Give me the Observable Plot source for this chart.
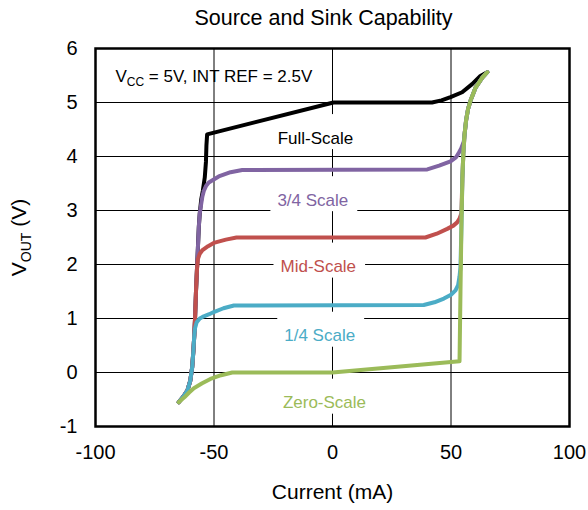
<!DOCTYPE html>
<html><head><meta charset="utf-8">
<script src="https://cdn.jsdelivr.net/npm/d3@7"></script>
<script src="https://cdn.jsdelivr.net/npm/@observablehq/plot@0.6"></script>
<style>
body{margin:0;background:#fff;}
#chart svg{font-family:"Liberation Sans",Arial,sans-serif;}
</style>
</head><body><div id="chart"></div>
<script>
// ---- data ----
const xTicks = [-100, -50, 0, 50, 100];
const yTicks = [-1, 0, 1, 2, 3, 4, 5, 6];

// shared source-side rise (current mA, Vout V)
const sourceRise = [[-64.9,-0.55],[-63.0,-0.45],[-61.2,-0.33],[-60.0,-0.15],[-59.2,0.1],[-58.7,0.4],[-58.3,0.7]];
// shared sink-side rise (top part of the zero-scale sink curve)
const sinkRise = [[53.6,0.21],[54.0,1.5],[54.4,2.7],[54.8,3.6],[55.2,4.05],[55.7,4.4],[56.4,4.68],[57.2,4.88],[58.2,5.03],[60.3,5.27],[63.2,5.46],[65.3,5.56]];

const fullScale = [...sourceRise,[-58.0,1.0],[-57.6,1.5],[-57.2,1.9],[-56.8,2.3],[-56.4,2.7],[-56.0,2.95],[-55.4,3.2],[-54.7,3.37],[-53.9,3.61],[-53.4,3.9],[-53.2,4.2],[-52.9,4.41],[0.4,5.0],[42,5.0],[46,5.04],[49.8,5.1],[54.7,5.19],[58.9,5.34],[62.4,5.49],[65.3,5.56]];
const threeQuarterScale = [...sourceRise,[-58.0,1.0],[-57.6,1.5],[-57.2,1.9],[-56.8,2.3],[-56.4,2.7],[-56.0,2.95],[-55.4,3.12],[-54.9,3.26],[-54.3,3.36],[-53.3,3.46],[-52.2,3.52],[-48,3.63],[-43,3.71],[-38.1,3.75],[40,3.76],[45,3.83],[49.8,3.91],[52.2,3.99],[53.3,4.07],[54.3,4.15],[55.4,4.28],[55.7,4.4],[56.4,4.68],[57.2,4.88],[58.2,5.03],[60.3,5.27],[63.2,5.46],[65.3,5.56]];
const midScale = [...sourceRise,[-58.0,1.0],[-57.6,1.5],[-57.2,1.9],[-56.8,2.1],[-56.0,2.2],[-55,2.26],[-52.5,2.34],[-50.1,2.4],[-45,2.46],[-40.5,2.5],[39.2,2.5],[44,2.57],[48.4,2.66],[51,2.72],[52.6,2.78],[53.6,2.85],[54.4,2.95],[54.8,3.6],[55.2,4.05],[55.7,4.4],[56.4,4.68],[57.2,4.88],[58.2,5.03],[60.3,5.27],[63.2,5.46],[65.3,5.56]];
const quarterScale = [...sourceRise,[-58.0,0.82],[-57.3,0.93],[-56,1.0],[-54.3,1.04],[-52,1.08],[-50.1,1.12],[-46,1.19],[-41.6,1.24],[38.5,1.25],[43,1.30],[47,1.37],[50,1.44],[51.9,1.52],[53.0,1.62],[53.6,1.78],[54.0,1.95],[54.4,2.7],[54.8,3.6],[55.2,4.05],[55.7,4.4],[56.4,4.68],[57.2,4.88],[58.2,5.03],[60.3,5.27],[63.2,5.46],[65.3,5.56]];
const zeroScale = [[-64.9,-0.55],[-62.5,-0.46],[-60.5,-0.37],[-58.5,-0.29],[-55,-0.2],[-51.5,-0.12],[-47,-0.05],[-42.3,0],[0,0],...sinkRise];

const seriesNames = ["Full-Scale", "3/4 Scale", "Mid-Scale", "1/4 Scale", "Zero-Scale"];
const seriesColors = ["#000000", "#8064A2", "#C0504D", "#4BACC6", "#9BBB59"];
const seriesPoints = [fullScale, threeQuarterScale, midScale, quarterScale, zeroScale];
const labelX = [-7.2, -8.3, -6.0, -5.4, -3.4];
const labelY = [4.34, 3.19, 1.96, 0.68, -0.56];

const noteX = [-91.6];
const noteY = [5.48];
const noteText = "VCC = 5V, INT REF = 2.5V";

const titleText = "Source and Sink Capability";
const xLabel = "Current (mA)";
const yLabel = "VOUT (V)";

// ---- build ----
const labelRows = seriesNames.map((n, i) => ({label: n, x: labelX[i], y: labelY[i], color: seriesColors[i]}));

const lineMarks = seriesPoints.map((pts, i) =>
  Plot.line(pts, {x: d => d[0], y: d => d[1], stroke: seriesColors[i], strokeWidth: 4,
    curve: "linear", strokeLinejoin: "round", strokeLinecap: "round"}));

const plot = Plot.plot({
  width: 588, height: 510,
  marginLeft: 95, marginRight: 19, marginTop: 48, marginBottom: 84,
  style: {fontFamily: '"Liberation Sans", Arial, sans-serif', fontSize: "20px", background: "white", color: "#000"},
  x: {domain: [-100, 100], label: null},
  y: {domain: [-1, 6], label: null},
  marks: [
    Plot.gridX({ticks: xTicks, stroke: "#000", strokeOpacity: 1, strokeWidth: 1}),
    Plot.gridY({ticks: yTicks, stroke: "#000", strokeOpacity: 1, strokeWidth: 1}),
    Plot.text(labelRows, {x: "x", y: "y", text: "label", fill: "color", fontSize: 17}),
    Plot.text(noteX.map((x, i) => ({x, y: noteY[i]})), {x: "x", y: "y", text: () => noteText, textAnchor: "start", fontSize: 17, fill: "#000"}),
    ...lineMarks,
    Plot.frame({stroke: "#000", strokeWidth: 2.5}),
    Plot.axisX({ticks: xTicks, tickSize: 0, tickPadding: 18, fontSize: 20, label: null, tickFormat: d => String(d)}),
    Plot.axisY({ticks: yTicks, tickSize: 0, tickPadding: 18, fontSize: 20, label: null, tickFormat: d => String(d)}),
    Plot.text([xLabel], {frameAnchor: "bottom", lineAnchor: "middle", dy: 66, fontSize: 21, fill: "#000"}),
    Plot.text([yLabel], {frameAnchor: "left", textAnchor: "middle", lineAnchor: "middle", dx: -76, rotate: -90, fontSize: 21, fill: "#000"}),
    Plot.text([titleText], {frameAnchor: "top", lineAnchor: "middle", dy: -30, dx: -9, fontSize: 21.5, fill: "#000"})
  ]
});

document.getElementById("chart").append(plot);

const allTexts = Array.from(plot.querySelectorAll("text"));

// white label boxes that interrupt the gridlines
allTexts.filter(t => seriesNames.includes(t.textContent)).forEach(t => {
  const b = t.getBBox();
  const r = document.createElementNS("http://www.w3.org/2000/svg", "rect");
  const cy = b.y + b.height / 2;
  r.setAttribute("x", b.x - 7);
  r.setAttribute("width", b.width + 16);
  r.setAttribute("y", cy - 24);
  r.setAttribute("height", 35);
  r.setAttribute("fill", "white");
  r.setAttribute("stroke", "none");
  if (t.getAttribute("transform")) r.setAttribute("transform", t.getAttribute("transform"));
  t.parentNode.insertBefore(r, t);
});

// subscripts
function subscriptText(el, base, sub, rest, subSize, shift) {
  const t = d3.select(el);
  t.text(null);
  t.append("tspan").text(base);
  t.append("tspan").attr("font-size", subSize).attr("dy", shift).text(sub);
  t.append("tspan").attr("dy", -shift).text(rest);
}
allTexts.filter(t => t.textContent === noteText).forEach(el => subscriptText(el, "V", "CC", " = 5V, INT REF = 2.5V", 12, 4));
allTexts.filter(t => t.textContent === yLabel).forEach(el => subscriptText(el, "V", "OUT", " (V)", 14, 5));
</script>
</body></html>
